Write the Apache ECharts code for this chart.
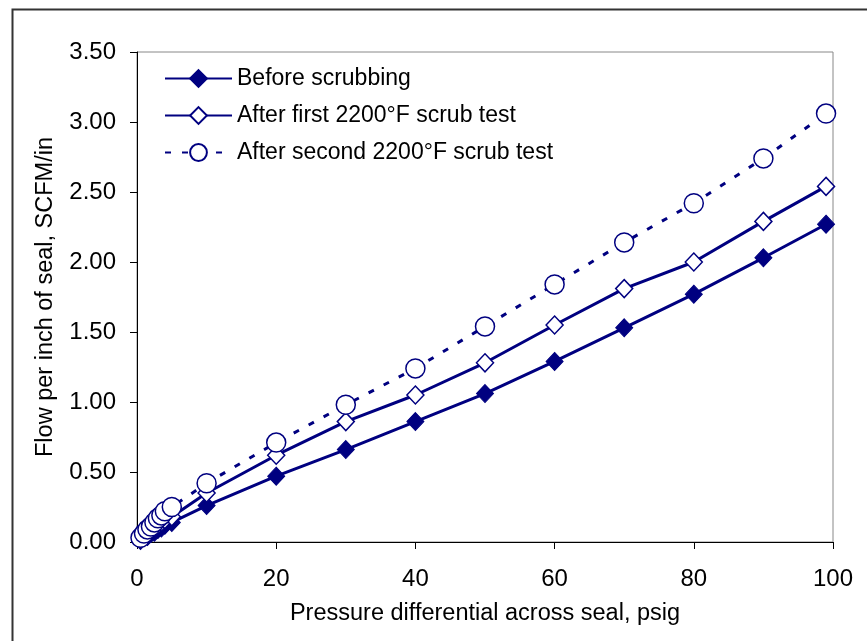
<!DOCTYPE html>
<html>
<head>
<meta charset="utf-8">
<script src="https://cdn.jsdelivr.net/npm/echarts@6/dist/echarts.min.js"></script>
<style>html,body{margin:0;padding:0;background:#fff;}#c{width:867px;height:641px;}</style>
</head>
<body>
<div id="c"></div>
<script>
const pressure = [0.5, 1, 1.5, 2, 2.5, 3, 3.5, 4, 5, 10, 20, 30, 40, 50, 60, 70, 80, 90, 99];
const beforeScrub = [0.01, 0.03, 0.04, 0.06, 0.07, 0.09, 0.10, 0.12, 0.14, 0.26, 0.47, 0.66, 0.86, 1.06, 1.29, 1.53, 1.77, 2.03, 2.27];
const afterFirst  = [0.02, 0.04, 0.06, 0.08, 0.10, 0.12, 0.14, 0.16, 0.18, 0.35, 0.62, 0.86, 1.05, 1.28, 1.55, 1.81, 2.00, 2.29, 2.54];
const afterSecond = [0.03, 0.06, 0.09, 0.11, 0.14, 0.17, 0.19, 0.22, 0.25, 0.42, 0.71, 0.98, 1.24, 1.54, 1.84, 2.14, 2.42, 2.74, 3.06];
const seriesNames = ['Before scrubbing', 'After first 2200°F scrub test', 'After second 2200°F scrub test'];
const xTicks = [0, 20, 40, 60, 80, 100];
const yTicks = [0, 0.5, 1, 1.5, 2, 2.5, 3, 3.5];

const navy = '#000080';
const font = 'Liberation Sans, Arial, sans-serif';
const pairs = arr => pressure.map((x, i) => [x, arr[i]]);

const chart = echarts.init(document.getElementById('c'), null, {renderer: 'canvas'});
chart.setOption({
  backgroundColor: '#fff',
  animation: false,
  graphic: [{
    type: 'rect', left: 10, top: 7, z: -10,
    shape: {width: 900, height: 700},
    style: {fill: 'none', stroke: '#333', lineWidth: 2}
  }],
  grid: {left: 137, top: 52, width: 696, height: 490, show: true, borderColor: '#888', borderWidth: 1, backgroundColor: 'transparent'},
  legend: {
    orient: 'vertical', left: 159, top: 62,
    itemWidth: 67, itemHeight: 21, itemGap: 14,
    textStyle: {fontFamily: font, fontSize: 23, color: '#000'},
    data: seriesNames
  },
  xAxis: {
    type: 'value', min: 0, max: 100, interval: 20,
    name: 'Pressure differential across seal, psig', nameLocation: 'middle', nameGap: 60,
    nameTextStyle: {fontFamily: font, fontSize: 23.5, color: '#000'},
    axisLine: {show: true, lineStyle: {color: '#000', width: 1}},
    axisTick: {show: true, inside: false, length: 7, lineStyle: {color: '#000'}},
    axisLabel: {fontFamily: font, fontSize: 24, color: '#000', margin: 25,
      formatter: v => xTicks.includes(v) ? String(v) : ''},
    splitLine: {show: false}
  },
  yAxis: {
    type: 'value', min: 0, max: 3.5, interval: 0.5,
    name: 'Flow per inch of seal, SCFM/in', nameLocation: 'middle', nameGap: 79,
    nameTextStyle: {fontFamily: font, fontSize: 23.5, color: '#000'},
    axisLine: {show: true, lineStyle: {color: '#000', width: 1}},
    axisTick: {show: true, inside: false, length: 7, lineStyle: {color: '#000'}},
    axisLabel: {fontFamily: font, fontSize: 24, color: '#000', margin: 21,
      formatter: v => yTicks.some(t => Math.abs(t - v) < 1e-9) ? v.toFixed(2) : ''},
    splitLine: {show: false}
  },
  series: [
    {
      name: seriesNames[0], type: 'line', data: pairs(beforeScrub),
      symbol: 'diamond', symbolSize: [17, 18], showAllSymbol: true,
      lineStyle: {color: navy, width: 3},
      itemStyle: {color: navy, borderColor: navy, borderWidth: 1}
    },
    {
      name: seriesNames[1], type: 'line', data: pairs(afterFirst),
      symbol: 'diamond', symbolSize: [17, 18], showAllSymbol: true,
      lineStyle: {color: navy, width: 3},
      itemStyle: {color: '#fff', borderColor: navy, borderWidth: 1.5}
    },
    {
      name: seriesNames[2], type: 'line', data: pairs(afterSecond),
      symbol: 'circle', symbolSize: 19, showAllSymbol: true,
      lineStyle: {color: navy, width: 3, type: [6, 11]},
      itemStyle: {color: '#fff', borderColor: navy, borderWidth: 1.5}
    }
  ]
});
</script>
</body>
</html>
